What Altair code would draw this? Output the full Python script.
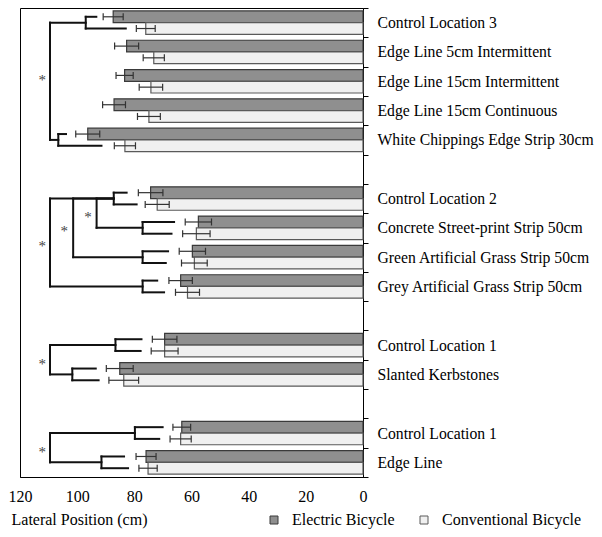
import json
import altair as alt
import pandas as pd

# ---------------- data ----------------
band_labels = [
    "Control Location 3", "Edge Line 5cm Intermittent", "Edge Line 15cm Intermittent",
    "Edge Line 15cm Continuous", "White Chippings Edge Strip 30cm", "",
    "Control Location 2", "Concrete Street-print Strip 50cm",
    "Green Artificial Grass Strip 50cm", "Grey Artificial Grass Strip 50cm", "",
    "Control Location 1", "Slanted Kerbstones", "",
    "Control Location 1", "Edge Line",
]
bar_bands = [0, 1, 2, 3, 4, 6, 7, 8, 9, 11, 12, 14, 15]
electric = [87.4, 82.7, 83.4, 87.1, 96.3, 74.3, 57.6, 59.7, 63.8, 69.4, 85.1, 63.4, 75.9]
electric_err = [3.5, 4.2, 3.0, 4.0, 4.2, 4.3, 4.6, 4.6, 4.1, 4.3, 4.7, 3.1, 3.5]
conventional = [76.0, 73.2, 74.2, 74.9, 83.3, 72.0, 58.3, 59.0, 61.4, 69.4, 83.7, 63.8, 75.2]
conventional_err = [3.3, 3.7, 4.1, 4.0, 3.7, 4.2, 4.8, 4.5, 4.2, 4.7, 5.2, 3.7, 3.2]
series_names = ["Electric Bicycle", "Conventional Bicycle"]

# dendrogram brackets: vertical at x, from y_top to y_bot, arms ending at x_top_end / x_bot_end
br_x = [97.0, 106.6, 109.5,
        87.2, 77.1, 77.1, 77.1, 109.5, 101.4, 93.2,
        86.6, 101.7, 109.5,
        79.8, 91.5, 109.5]
br_y_top = [0.3, 4.3, 0.5,
            6.3, 7.3, 8.3, 9.3, 6.5, 6.5, 6.5,
            11.3, 12.3, 11.5,
            14.3, 15.3, 14.5]
br_y_bot = [0.7, 4.7, 4.5,
            6.7, 7.7, 8.7, 9.7, 9.5, 8.5, 7.5,
            11.7, 12.7, 12.5,
            14.7, 15.7, 15.5]
br_top_end = [93.3, 103.9, 97.0,
              82.7, 66.1, 68.2, 72.0, 87.2, 87.2, 87.2,
              77.5, 93.5, 86.6,
              70.1, 83.6, 79.8]
br_bot_end = [83.0, 91.5, 106.6,
              79.2, 67.0, 69.0, 69.6, 77.1, 77.1, 77.1,
              77.8, 92.5, 101.7,
              71.3, 82.2, 91.5]

star_x = [112.2, 96.2, 104.5, 112.2, 112.2, 112.2]
star_y = [2.35, 7.0, 7.5, 8.0, 12.04, 15.02]

x_ticks = [0, 20, 40, 60, 80, 100, 120]

# ---------------- tables ----------------
rows = []
for s_i, (name, vals, errs) in enumerate(
        [(series_names[0], electric, electric_err),
         (series_names[1], conventional, conventional_err)]):
    for b, v, e in zip(bar_bands, vals, errs):
        top = b + 0.1 + 0.4 * s_i
        rows.append({
            "series": name, "value": v, "zero": 0,
            "lo": v - e, "hi": v + e,
            "y_top": top, "y_bot": top + 0.4, "y_mid": top + 0.2,
            "cap_a": top + 0.2 - 0.12, "cap_b": top + 0.2 + 0.12,
        })
bars_df = pd.DataFrame(rows)

br_df = pd.DataFrame({"bx": br_x, "yt": br_y_top, "yb": br_y_bot,
                      "xt": br_top_end, "xb": br_bot_end})
star_df = pd.DataFrame({"sx": star_x, "sy": star_y, "t": ["*"] * len(star_x)})

FONT = "Liberation Serif"
xs = alt.Scale(domain=[0, 120], reverse=True, nice=False, zero=False)
ys = alt.Scale(domain=[0, 16], reverse=True, nice=False, zero=False)

label_expr = ("datum.value % 1 === 0 ? '' : "
              + json.dumps(band_labels) + "[floor(datum.value)]")

x_axis = alt.Axis(values=x_ticks, ticks=False, tickSize=0, grid=False,
                  labelFont=FONT, labelFontSize=16, labelColor="black",
                  labelPadding=11, labelFlush=False, labelOverlap=False,
                  domainColor="black",
                  title="Lateral Position (cm)", titleFont=FONT, titleFontSize=16,
                  titleFontWeight="normal", titleColor="black",
                  titleX=-9, titleY=42, titleAlign="left", titleBaseline="middle")
y_axis = alt.Axis(orient="right", values=[i * 0.5 for i in range(33)],
                  tickSize=5, tickColor="black",
                  tickOpacity={"condition": {"test": "datum.value % 1 === 0", "value": 1},
                               "value": 0},
                  labelExpr=label_expr, labelFont=FONT, labelFontSize=15.7,
                  labelColor="black", labelPadding=9, labelAlign="left",
                  labelBaseline="middle", labelOverlap=False, labelFlush=False,
                  labelLimit=400,
                  domainColor="black", grid=False, title=None)


def X(field):
    return alt.X(field, scale=xs, axis=x_axis)


def Y(field):
    return alt.Y(field, scale=ys, axis=y_axis)


bars = alt.Chart(bars_df).mark_bar(strokeWidth=1.2).encode(
    x=X("value:Q"),
    x2="zero:Q",
    y=Y("y_top:Q"),
    y2="y_bot:Q",
    fill=alt.Fill("series:N",
                  scale=alt.Scale(domain=series_names, range=["#8f8f8f", "#f0f0f0"]),
                  legend=alt.Legend(orient="none", direction="horizontal",
                                    legendX=246, legendY=504, title=None,
                                    symbolType="square", symbolSize=64,
                                    symbolStrokeColor="#444", symbolStrokeWidth=1,
                                    labelFont=FONT, labelFontSize=16,
                                    labelColor="black", labelOffset=10,
                                    columnPadding=21, padding=0)),
    stroke=alt.Stroke("series:N",
                      scale=alt.Scale(domain=series_names, range=["#3a3a3a", "#5a5a5a"]),
                      legend=None),
)

err = alt.Chart(bars_df).mark_rule(color="#333", strokeWidth=1.2).encode(
    x=X("lo:Q"), x2="hi:Q", y=Y("y_mid:Q"))
cap_lo = alt.Chart(bars_df).mark_rule(color="#333", strokeWidth=1.2).encode(
    x=X("lo:Q"), y=Y("cap_a:Q"), y2="cap_b:Q")
cap_hi = alt.Chart(bars_df).mark_rule(color="#333", strokeWidth=1.2).encode(
    x=X("hi:Q"), y=Y("cap_a:Q"), y2="cap_b:Q")

line_style = dict(color="#111", strokeWidth=2, strokeCap="square")
br_v = alt.Chart(br_df).mark_rule(**line_style).encode(
    x=X("bx:Q"), y=Y("yt:Q"), y2="yb:Q")
br_t = alt.Chart(br_df).mark_rule(**line_style).encode(
    x=X("bx:Q"), x2="xt:Q", y=Y("yt:Q"))
br_b = alt.Chart(br_df).mark_rule(**line_style).encode(
    x=X("bx:Q"), x2="xb:Q", y=Y("yb:Q"))

stars = alt.Chart(star_df).mark_text(font=FONT, fontSize=15, color="#444",
                                     baseline="middle", align="center", dy=3.5).encode(
    x=X("sx:Q"), y=Y("sy:Q"), text="t:N")

chart = alt.layer(bars, err, cap_lo, cap_hi, br_v, br_t, br_b, stars).properties(
    width=343, height=469,
    autosize=alt.AutoSizeParams(type="none"),
    padding={"left": 12, "top": 0, "right": 231, "bottom": 52},
).configure_view(stroke="black", strokeWidth=1).configure_axis(
    labelFont=FONT, titleFont=FONT
).configure_legend(labelFont=FONT).configure_text(font=FONT)

chart.save("out.html", embed_options={"renderer": "svg", "actions": False})
